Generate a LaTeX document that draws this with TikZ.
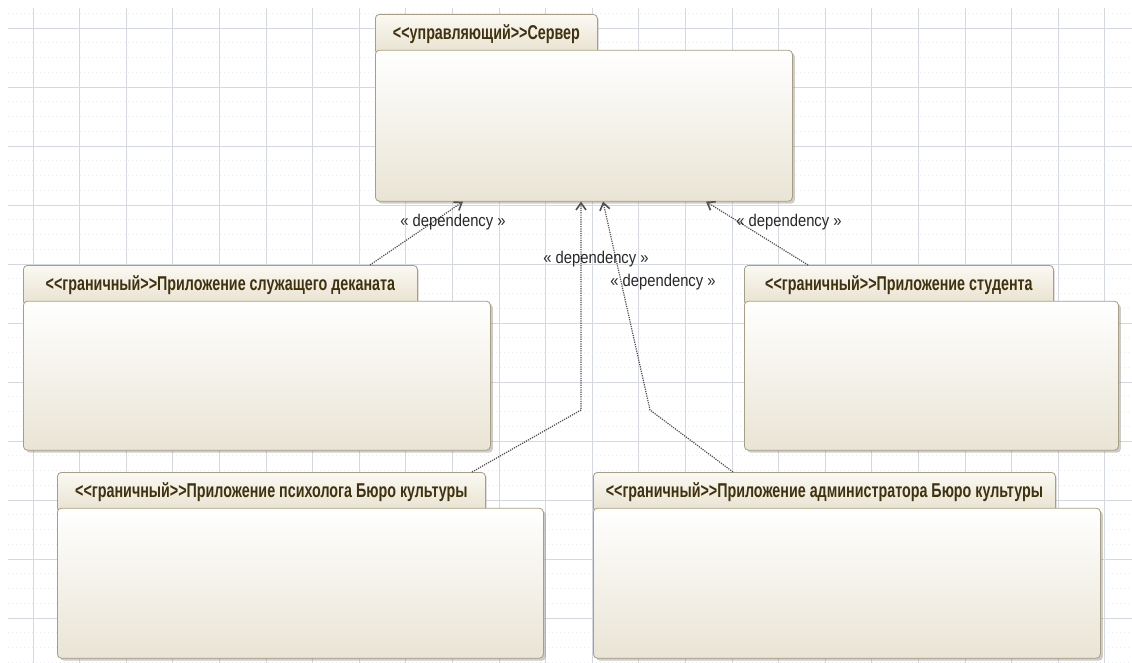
\documentclass[tikz,border=0pt]{standalone}
\usepackage{fontspec}
\newfontfamily\tabfont[FakeStretch=0.715]{Liberation Sans}
\newfontfamily\labfont[FakeStretch=0.87]{Liberation Sans}
\usepackage{tikz}
\usetikzlibrary{arrows.meta, positioning, calc, shadows}
\definecolor{gridmaj}{RGB}{212,216,225}
\definecolor{gridmin}{RGB}{234,236,241}
\definecolor{pkgborder}{RGB}{168,158,132}
\definecolor{tabtop}{RGB}{251,249,243}
\definecolor{tabbot}{RGB}{231,225,206}
\definecolor{bodymid}{RGB}{250,248,243}
\definecolor{bodybot}{RGB}{233,228,212}
\definecolor{pkgtext}{RGB}{64,50,14}
\definecolor{depline}{RGB}{80,80,80}
\definecolor{deptext}{RGB}{40,40,40}
\newcommand\stereoL{<\kern0pt<}
\newcommand\stereoR{>\kern0pt>}
\tikzset{
  majline/.style={draw=gridmaj, line width=0.9pt},
  minline/.style={draw=gridmin, line width=0.8pt, dash pattern=on 1pt off 3pt},
  pkgtab/.style={rectangle, draw=pkgborder, rounded corners=4pt,
    top color=tabtop, bottom color=tabbot, line width=0.8pt,
    minimum height=40pt, inner xsep=12pt, anchor=north west,
    font=\tabfont\bfseries\fontsize{20}{22}\selectfont, text=pkgtext,
    drop shadow={shadow xshift=1.5pt, shadow yshift=-1.5pt, opacity=0.25}},
  pkgbody/.style={rectangle, draw=pkgborder, rounded corners=4pt,
    top color=white, middle color=bodymid, bottom color=bodybot,
    line width=0.8pt, anchor=north west, inner sep=0pt,
    drop shadow={shadow xshift=2.5pt, shadow yshift=-2.5pt, opacity=0.4}},
  dep/.style={draw=depline, line width=1.2pt, dash pattern=on 1.2pt off 1.1pt,
    -{Straight Barb[length=7pt, width=10pt, line width=1.6pt]}},
  deplabel/.style={font=\labfont\fontsize{17}{19}\selectfont, text=deptext, inner sep=1pt}
}
\begin{document}
\begin{tikzpicture}[x=1pt, y=-1pt]
  \useasboundingbox (0,0) rectangle (1132,663);
  \fill[white] (0,0) rectangle (1132,663);

  % Background grid
  \begin{scope}
    \clip (8,8) rectangle (1132,663);
    \foreach \j in {-1,...,10} {
      \draw[majline] (8,{28+59*\j}) -- (1132,{28+59*\j});
      \foreach \k in {1,2,3}
        \draw[minline] (8,{28+59*\j+14.75*\k}) -- (1132,{28+59*\j+14.75*\k});
    }
    \foreach \i in {0,...,23}
      \draw[majline] ({33+46.6*\i},8) -- ({33+46.6*\i},663);
  \end{scope}

  % Server package
  \node[pkgtab, minimum width=222pt] (srvtab) at (375,14) {\stereoL управляющий\stereoR Сервер};
  \node[pkgbody, minimum width=417pt, minimum height=151pt] (srv) at ([yshift=5pt]srvtab.south west) {};

  % Client packages
  \node[pkgtab, minimum width=394pt] (dektab) at (23,265) {\stereoL граничный\stereoR Приложение служащего деканата};
  \node[pkgbody, minimum width=467pt, minimum height=149pt] (dek) at ([yshift=5pt]dektab.south west) {};

  \node[pkgtab, minimum width=309pt] (stdtab) at (744,265) {\stereoL граничный\stereoR Приложение студента};
  \node[pkgbody, minimum width=374pt, minimum height=149pt] (std) at ([yshift=5pt]stdtab.south west) {};

  \node[pkgtab, minimum width=428pt] (psytab) at (57,472) {\stereoL граничный\stereoR Приложение психолога Бюро культуры};
  \node[pkgbody, minimum width=486pt, minimum height=150pt] (psy) at ([yshift=5pt]psytab.south west) {};

  \node[pkgtab, minimum width=462pt] (admtab) at (593,472) {\stereoL граничный\stereoR Приложение администратора Бюро культуры};
  \node[pkgbody, minimum width=507pt, minimum height=150pt] (adm) at ([yshift=5pt]admtab.south west) {};

  % Dependencies
  \coordinate (bendL) at (581,410);
  \coordinate (bendR) at (650,410);
  \draw[dep] ([xshift=347pt]dektab.north west) -- ([xshift=88pt]srv.south west);
  \draw[dep] ([xshift=415pt]psytab.north west) -- (bendL) -- ([xshift=206pt]srv.south west);
  \draw[dep] ([xshift=140pt]admtab.north west) -- (bendR) -- ([xshift=228pt]srv.south west);
  \draw[dep] ([xshift=64pt]stdtab.north west) -- ([xshift=331pt]srv.south west);

  \node[deplabel] (lab1) at (453,222) {« dependency »};
  \node[deplabel] (lab2) at (596,259) {« dependency »};
  \node[deplabel] (lab3) at (663,282) {« dependency »};
  \node[deplabel] (lab4) at (789,222) {« dependency »};
\end{tikzpicture}
\end{document}
